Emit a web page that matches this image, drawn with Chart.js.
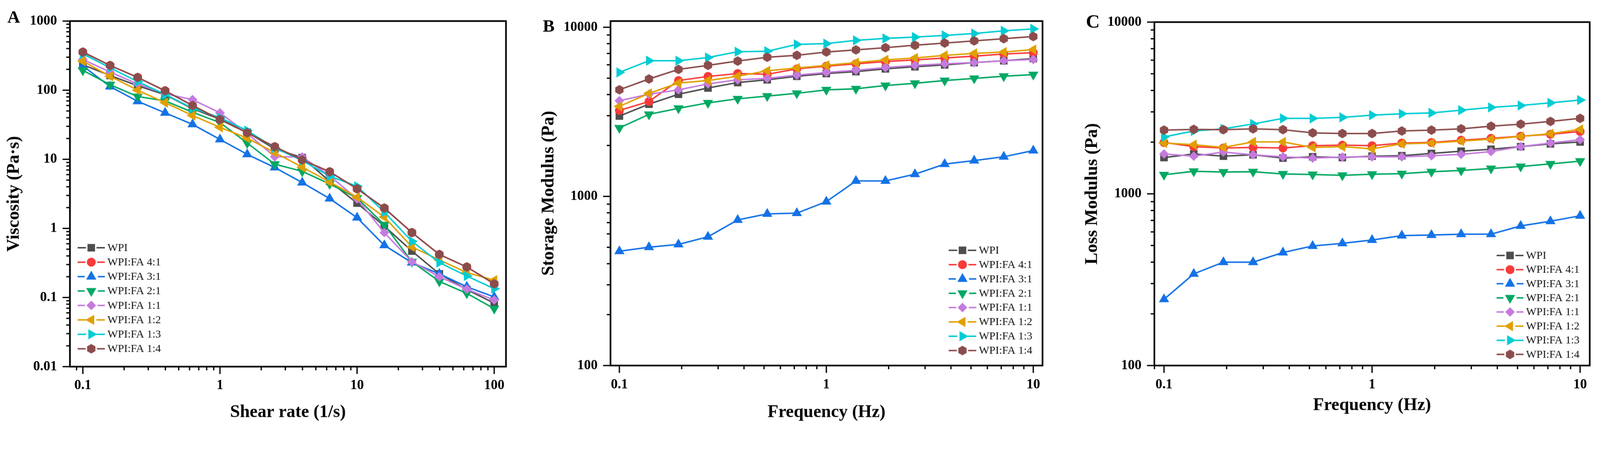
<!DOCTYPE html>
<html>
<head>
<meta charset="utf-8">
<script src="https://cdn.jsdelivr.net/npm/chart.js@4.4.1/dist/chart.umd.min.js"></script>
<style>
  html, body { margin: 0; padding: 0; background: #fff; overflow: hidden; }
  #page { position: absolute; left: 0; top: 0; width: 4348px; height: 1167px; transform-origin: 0 0; background: #fff; }
  canvas { position: absolute; top: 0; }
  .tag { position: absolute; font: bold 48px "Liberation Serif", serif; line-height: 48px; color: #000; }
</style>
</head>
<body>
<div id="page">
  <canvas id="chartA" width="1440" height="1167" style="left:0px"></canvas>
  <canvas id="chartB" width="1450" height="1167" style="left:1440px"></canvas>
  <canvas id="chartC" width="1458" height="1167" style="left:2890px"></canvas>
  <div class="tag" style="left:20px;top:22px">A</div>
  <div class="tag" style="left:1475px;top:46px">B</div>
  <div class="tag" style="left:2951px;top:34px;font-size:52px">C</div>
</div>
<script>
// fit the 4348x1167 page into whatever viewport we get
const fitScale = Math.min(window.innerWidth / 4348, window.innerHeight / 1167);
document.getElementById('page').style.transform = 'scale(' + fitScale + ')';

// series
const seriesNames = ['WPI', 'WPI:FA 4:1', 'WPI:FA 3:1', 'WPI:FA 2:1', 'WPI:FA 1:1', 'WPI:FA 1:2', 'WPI:FA 1:3', 'WPI:FA 1:4'];
const seriesColors = ['#4d4d4d', '#f83a3a', '#1472e6', '#00a862', '#c57ade', '#e0a000', '#00ccd4', '#8b4c4c'];

// x values
const shearRate = [0.1, 0.158, 0.251, 0.398, 0.631, 1, 1.58, 2.51, 3.98, 6.31, 10, 15.8, 25.1, 39.8, 63.1, 100];
const frequency = [0.1, 0.139, 0.193, 0.268, 0.373, 0.518, 0.72, 1, 1.39, 1.93, 2.68, 3.73, 5.18, 7.2, 10];

// A: viscosity (Pa·s)
const viscWPI = [233, 163, 116, 86, 54, 38, 24.7, 14.1, 10.6, 4.8, 2.32, 1.08, 0.47, 0.22, 0.13, 0.083];
const visc41  = [356, 228, 153, 98, 60, 37.6, 24.2, 15.2, 9.8, 6.6, 3.75, 1.97, 0.87, 0.42, 0.277, 0.158];
const visc31  = [224, 113, 69, 47, 32, 19.4, 11.8, 7.6, 4.6, 2.7, 1.43, 0.57, 0.32, 0.22, 0.143, 0.102];
const visc21  = [194, 120, 81, 70, 48, 34, 17.2, 8.5, 6.7, 4.4, 2.75, 1.13, 0.33, 0.171, 0.115, 0.069];
const visc11  = [279, 183, 123, 89, 73, 47, 23.7, 10.9, 10.8, 5.8, 2.67, 0.87, 0.33, 0.2, 0.132, 0.092];
const visc12  = [263, 159, 100, 66, 43, 29, 20.2, 12.5, 7.7, 4.7, 2.83, 1.46, 0.54, 0.35, 0.23, 0.178];
const visc13  = [335, 211, 133, 87, 55, 40, 26, 14.6, 9.6, 5.7, 4.07, 1.72, 0.65, 0.32, 0.205, 0.134];
const visc14  = [356, 228, 153, 98, 60, 37.6, 24.2, 15.2, 9.8, 6.6, 3.75, 1.97, 0.87, 0.42, 0.277, 0.158];

// B: storage modulus (Pa)
const storWPI = [2985, 3510, 4017, 4375, 4713, 4890, 5130, 5326, 5470, 5675, 5845, 5995, 6180, 6340, 6530];
const stor41  = [3221, 3641, 4840, 5120, 5326, 5270, 5675, 5890, 6085, 6265, 6410, 6580, 6750, 6950, 7080];
const stor31  = [474, 501, 520, 577, 726, 788, 796, 931, 1234, 1234, 1353, 1552, 1629, 1715, 1866];
const stor21  = [2540, 3055, 3318, 3573, 3776, 3918, 4066, 4266, 4327, 4526, 4664, 4840, 4985, 5134, 5246];
const stor11  = [3681, 4017, 4266, 4626, 4890, 4985, 5213, 5407, 5570, 5780, 5955, 6085, 6180, 6340, 6454];
const stor12  = [3406, 4066, 4680, 4840, 5133, 5530, 5740, 5955, 6180, 6415, 6580, 6820, 7010, 7140, 7380];
const stor13  = [5408, 6340, 6340, 6625, 7163, 7215, 7920, 8005, 8370, 8590, 8750, 8950, 9184, 9530, 9780];
const stor14  = [4268, 4946, 5634, 5957, 6313, 6650, 6825, 7142, 7350, 7571, 7830, 8065, 8310, 8560, 8817];

// C: loss modulus (Pa)
const lossWPI = [1626, 1707, 1657, 1687, 1614, 1643, 1626, 1657, 1667, 1718, 1771, 1817, 1883, 1954, 2005];
const loss41  = [1991, 1883, 1849, 1863, 1849, 1906, 1920, 1906, 1977, 1991, 2052, 2104, 2164, 2221, 2306];
const loss31  = [243, 342, 400, 400, 455, 497, 515, 538, 571, 575, 582, 582, 650, 692, 745];
const loss21  = [1291, 1353, 1339, 1344, 1305, 1296, 1282, 1301, 1310, 1344, 1368, 1404, 1442, 1494, 1549];
const loss11  = [1707, 1657, 1750, 1687, 1643, 1614, 1638, 1643, 1643, 1667, 1698, 1762, 1883, 1977, 2067];
const loss12  = [1977, 1933, 1863, 2005, 2005, 1863, 1883, 1828, 1954, 1977, 2029, 2081, 2159, 2239, 2372];
const loss13  = [2143, 2322, 2390, 2553, 2749, 2749, 2788, 2871, 2925, 2959, 3070, 3185, 3268, 3388, 3516];
const loss14  = [2350, 2373, 2364, 2390, 2364, 2264, 2245, 2245, 2322, 2350, 2390, 2477, 2545, 2640, 2750];

// tick labels
const shearTicks = [0.1, 1, 10, 100];
const shearLabels = ['0.1', '1', '10', '100'];
const freqTicks = [0.1, 1, 10];
const freqLabels = ['0.1', '1', '10'];
const viscTicks = [0.01, 0.1, 1, 10, 100, 1000];
const viscLabels = ['0.01', '0.1', '1', '10', '100', '1000'];
const modTicks = [100, 1000, 10000];
const modLabels = ['100', '1000', '10000'];

Chart.defaults.font.family = '"Liberation Serif", "Times New Roman", serif';
Chart.defaults.color = '#000';

function hexagon(r, color) {
  const c = document.createElement('canvas');
  c.width = c.height = 2 * r + 2;
  const g = c.getContext('2d');
  g.fillStyle = color;
  g.beginPath();
  for (let k = 0; k < 6; k++) {
    const a = Math.PI / 3 * k - Math.PI / 2;
    g.lineTo(r + 1 + r * Math.cos(a), r + 1 + r * Math.sin(a));
  }
  g.closePath();
  g.fill();
  return c;
}

const markerStyles = ['rect', 'circle', 'triangle', 'triangle', 'rectRot', 'triangle', 'triangle', hexagon(13, seriesColors[7])];
const markerRotations = [0, 0, 0, 180, 0, 270, 90, 0];
const markerRadii = [14.5, 12, 16, 16, 13, 16, 16, 13];
const markerHalfWidth = [10.3, 12, 13.9, 13.9, 13, 10, 10, 11.3];

function buildDatasets(xs, rows) {
  return seriesNames.map((name, i) => ({
    label: name,
    data: xs.map((x, k) => ({ x: x, y: rows[i][k] })),
    borderColor: seriesColors[i],
    backgroundColor: seriesColors[i],
    pointBackgroundColor: seriesColors[i],
    pointBorderColor: seriesColors[i],
    pointBorderWidth: 0,
    pointStyle: markerStyles[i],
    pointRotation: markerRotations[i],
    pointRadius: markerRadii[i],
    borderWidth: 4,
    tension: 0,
    order: seriesNames.length - 1 - i
  }));
}

// outer frame plus outward major/minor ticks
const frameTicks = {
  id: 'frameTicks',
  afterDraw(chart) {
    const { ctx, chartArea: a } = chart;
    ctx.save();
    ctx.strokeStyle = '#000';
    ctx.lineWidth = 3.5;
    ['x', 'y'].forEach(id => {
      const s = chart.scales[id];
      const lo = Math.floor(Math.log10(s.min)), hi = Math.ceil(Math.log10(s.max));
      for (let e = lo; e <= hi; e++) {
        for (let d = 1; d <= 9; d++) {
          const v = d * Math.pow(10, e);
          if (v < s.min * 0.999 || v > s.max * 1.001) continue;
          const p = s.getPixelForValue(v);
          const len = d === 1 ? 20 : 10;
          ctx.beginPath();
          if (id === 'x') { ctx.moveTo(p, a.bottom); ctx.lineTo(p, a.bottom + len); }
          else { ctx.moveTo(a.left - len, p); ctx.lineTo(a.left, p); }
          ctx.stroke();
        }
      }
    });
    ctx.lineWidth = 4.5;
    ctx.strokeRect(a.left, a.top, a.right - a.left, a.bottom - a.top);
    ctx.restore();
  }
};

// legend with line + marker samples
const sampleLegend = {
  id: 'sampleLegend',
  afterDraw(chart, args, opts) {
    const { ctx } = chart;
    ctx.save();
    chart.data.datasets.forEach((ds, i) => {
      const y = opts.y + i * opts.step;
      const x0 = opts.x, x1 = opts.x + opts.lineLen, mx = (x0 + x1) / 2;
      const gap = markerHalfWidth[i] + 4;
      ctx.strokeStyle = ds.borderColor;
      ctx.lineWidth = 4;
      ctx.beginPath();
      ctx.moveTo(x0, y); ctx.lineTo(mx - gap, y);
      ctx.moveTo(mx + gap, y); ctx.lineTo(x1, y);
      ctx.stroke();
      ctx.fillStyle = ds.pointBackgroundColor;
      ctx.strokeStyle = ds.pointBackgroundColor;
      if (Chart.helpers && Chart.helpers.drawPoint) {
        Chart.helpers.drawPoint(ctx, { pointStyle: ds.pointStyle, radius: ds.pointRadius, rotation: ds.pointRotation, borderWidth: 0 }, mx, y);
      } else {
        ctx.beginPath(); ctx.arc(mx, y, ds.pointRadius, 0, Math.PI * 2); ctx.fill();
      }
      ctx.fillStyle = '#111';
      ctx.font = '30px "Liberation Serif"';
      ctx.textAlign = 'left';
      ctx.textBaseline = 'middle';
      ctx.fillText(ds.label, x1 + 7, y + 1);
    });
    ctx.restore();
  }
};

function logAxis(min, max, values, labels, title, titlePad, fitSize, horizontal, tickPad) {
  return {
    type: 'logarithmic',
    min: min,
    max: max,
    bounds: 'data',
    grid: { display: false, drawTicks: false },
    border: { display: false },
    afterBuildTicks: s => { s.ticks = values.map(v => ({ value: v })); },
    afterFit: s => { if (horizontal) s.height = fitSize; else s.width = fitSize; },
    ticks: {
      autoSkip: false,
      maxRotation: 0,
      padding: tickPad,
      color: '#000',
      font: { size: 37, weight: 'bold' },
      callback: (v, i) => labels[i]
    },
    title: {
      display: true,
      text: title,
      color: '#000',
      font: { size: 48, weight: 'bold' },
      padding: horizontal ? { top: 0, bottom: titlePad } : { top: titlePad, bottom: 0 }
    }
  };
}

function makeChart(id, xs, rows, xAxis, yAxis, padding, legendPos) {
  return new Chart(document.getElementById(id), {
    type: 'line',
    data: { datasets: buildDatasets(xs, rows) },
    options: {
      responsive: false,
      animation: false,
      devicePixelRatio: 1,
      events: [],
      layout: { padding: padding },
      scales: { x: xAxis, y: yAxis },
      plugins: {
        legend: { display: false },
        tooltip: { enabled: false },
        sampleLegend: legendPos
      }
    },
    plugins: [frameTicks, sampleLegend]
  });
}

makeChart('chartA', shearRate,
  [viscWPI, visc41, visc31, visc21, visc11, visc12, visc13, visc14],
  logAxis(0.0805, 121.9, shearTicks, shearLabels, 'Shear rate (1/s)', 18, 171, true, 29),
  logAxis(0.01, 1000, viscTicks, viscLabels, 'Viscosity (Pa\u00b7s)', 10, 190, false, 35),
  { top: 42, right: 65, bottom: 0, left: 0 },
  { x: 211, y: 673, step: 39.2, lineLen: 74 });

makeChart('chartB', frequency,
  [storWPI, stor41, stor31, stor21, stor11, stor12, stor13, stor14],
  logAxis(0.0906, 11.08, freqTicks, freqLabels, 'Frequency (Hz)', 18, 174, true, 30),
  logAxis(100, 10880, modTicks, modLabels, 'Storage Modulus (Pa)', 23, 219, false, 35),
  { top: 50, right: 57, bottom: 0, left: 0 },
  { x: 1138, y: 680, step: 38.9, lineLen: 75 });

makeChart('chartC', frequency,
  [lossWPI, loss41, loss31, loss21, loss11, loss12, loss13, loss14],
  logAxis(0.0899, 11.12, freqTicks, freqLabels, 'Frequency (Hz)', 37, 174, true, 30),
  logAxis(100, 10000, modTicks, modLabels, 'Loss Modulus (Pa)', 50, 247, false, 35),
  { top: 60, right: 28, bottom: 0, left: 0 },
  { x: 1177, y: 694, step: 38.4, lineLen: 73 });
</script>
</body>
</html>
